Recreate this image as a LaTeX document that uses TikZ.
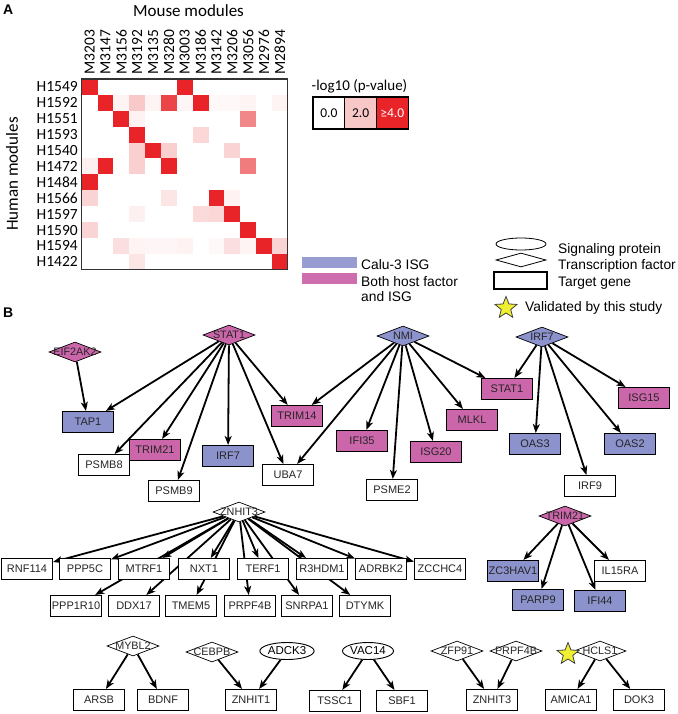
\documentclass[tikz,border=0pt]{standalone}
\usepackage{fontspec}
\setmainfont{Liberation Sans}
\newfontfamily\calfont{Carlito}
\usetikzlibrary{shapes.geometric,arrows.meta,backgrounds}
\definecolor{hmred}{RGB}{232,36,40}
\definecolor{isgblue}{RGB}{140,146,204}
\definecolor{bothpink}{RGB}{204,102,170}
\definecolor{staryellow}{RGB}{240,240,50}
\definecolor{legpink}{RGB}{248,200,200}
\begin{document}
\begin{tikzpicture}[x=1pt,y=-1pt,
  tbox/.style={rectangle,draw=black,line width=1.1pt,minimum width=51pt,minimum height=21pt,inner sep=0pt,fill=white,font=\fontsize{11}{12}\selectfont,text=black!85},
  isg/.style={tbox,fill=isgblue},
  both/.style={tbox,fill=bothpink},
  tf/.style={diamond,draw=black,line width=0.7pt,minimum width=52pt,minimum height=20pt,inner sep=0pt,fill=white},
  tfl/.style={font=\fontsize{10.8}{12}\selectfont,inner sep=0pt,text=black!85},
  sig/.style={ellipse,draw=black,line width=0.9pt,minimum width=51pt,minimum height=17pt,inner sep=0pt,fill=white,font=\fontsize{11.5}{12}\selectfont},
  edge/.style={line width=1.8pt,-{Stealth[length=9pt,width=7pt,inset=2.5pt]}},
  hmlab/.style={font=\calfont\fontsize{15.5}{16}\selectfont,inner sep=0pt},
  legtxt/.style={font=\fontsize{13.8}{15}\selectfont,inner sep=0pt},
  vstar/.style={star,star points=5,star point ratio=2.3,minimum size=23pt,inner sep=0pt,fill=staryellow,draw=black!75,line width=0.8pt},
  panel/.style={font=\bfseries\fontsize{14}{14}\selectfont,inner sep=0pt}
]
\useasboundingbox (0,0) rectangle (677,714);
% ---------------- Panel A ----------------
\node[panel,anchor=north west] (pa) at (3,5) {A};
\node[font=\calfont\fontsize{17}{18}\selectfont,inner sep=0pt] (mouse) at (188.5,10.5) {Mouse modules};
\node[font=\calfont\fontsize{17}{18}\selectfont,inner sep=0pt,rotate=90] (human) at (12,174) {Human modules};
\foreach \r/\c/\p in {0/0/100,0/6/100,
  1/1/100,1/2/5,1/3/25,1/4/5,1/5/85,1/6/4,1/7/100,1/8/3,1/9/3,1/10/5,1/12/5,
  2/2/100,2/3/6,2/10/55,
  3/3/100,3/7/18,
  4/3/22,4/4/100,4/5/22,4/9/20,
  5/0/7,5/1/100,5/3/22,5/5/100,5/10/60,
  6/0/100,
  7/0/20,7/5/12,7/8/100,7/9/6,
  8/3/7,8/7/17,8/8/18,8/9/100,
  9/0/20,9/10/100,
  10/2/15,10/3/5,10/4/4,10/5/4,10/6/6,10/8/3,10/9/15,10/10/5,10/11/100,10/12/20,
  11/3/12,11/12/100}
  \fill[hmred!\p!white] ({81.7+\c*15.85},{79+\r*15.9}) rectangle ++(15.85,15.9);
\draw[line width=1.2pt,black!80] (81.7,79) rectangle (287.8,269.8);
\foreach \lab [count=\i from 0] in {M3203,M3147,M3156,M3192,M3135,M3280,M3003,M3186,M3142,M3206,M3056,M2976,M2894}
  \node[hmlab,rotate=90,anchor=west] at ({81.7+(\i+0.5)*15.85},75) {\lab};
\foreach \lab [count=\i from 0] in {H1549,H1592,H1551,H1593,H1540,H1472,H1484,H1566,H1597,H1590,H1594,H1422}
  \node[hmlab,anchor=east] at (78,{79+(\i+0.5)*15.9}) {\lab};
% heatmap legend
\node[font=\calfont\fontsize{15}{16}\selectfont,inner sep=0pt] (lgt) at (359.5,86.5) {-log10 (p-value)};
\node[draw=black,line width=1.2pt,fill=white,minimum width=31.7pt,minimum height=32pt,inner sep=0pt,font=\calfont\fontsize{13.5}{14}\selectfont] (l0) at (328.9,113) {0.0};
\node[draw=black,line width=1.2pt,fill=legpink,minimum width=31.7pt,minimum height=32pt,inner sep=0pt,font=\calfont\fontsize{13.5}{14}\selectfont] (l2) at (360.6,113) {2.0};
\node[draw=black,line width=1.2pt,fill=hmred,minimum width=31.7pt,minimum height=32pt,inner sep=0pt,font=\calfont\fontsize{13.5}{14}\selectfont,text=white] (l4) at (392.3,113) {≥4.0};
% ---------------- Legends B ----------------
\fill[isgblue!90!white] (302,257) rectangle (357,268);
\fill[bothpink!95!white] (302,273) rectangle (357,284);
\node[legtxt,anchor=base west] (tcalu) at (361,269) {Calu-3 ISG};
\node[legtxt,anchor=base west] (tboth) at (361,286.7) {Both host factor};
\node[legtxt,anchor=base west] (tboth2) at (361,301.7) {and ISG};
\node[ellipse,draw=black,line width=0.8pt,minimum width=50pt,minimum height=12pt,inner sep=0pt] (lgell) at (521,244) {};
\node[diamond,draw=black,line width=0.8pt,minimum width=50pt,minimum height=14pt,inner sep=0pt] (lgdia) at (521,260) {};
\node[rectangle,draw=black,line width=1.1pt,minimum width=53pt,minimum height=17pt,inner sep=0pt] (lgrect) at (520.5,280.5) {};
\node[vstar] (lgstar) at (506,308) {};
\node[legtxt,anchor=base west] (tsig) at (558,253) {Signaling protein};
\node[legtxt,anchor=base west] (ttf) at (558,269.3) {Transcription factor};
\node[legtxt,anchor=base west] (ttg) at (558,286.7) {Target gene};
\node[legtxt,anchor=base west] (tval) at (525,311.7) {Validated by this study};
\node[panel,anchor=north west] (pb) at (3,308) {B};
% ---------------- Network ----------------
\node[tf,fill=bothpink,label={[tfl]center:STAT1}] (stat1tf) at (229,335) {};
\node[tf,fill=bothpink,label={[tfl]center:EIF2AK2}] (eif2ak2) at (75,352) {};
\node[tf,fill=isgblue,label={[tfl]center:NMI}] (nmi) at (403,336) {};
\node[tf,fill=isgblue,label={[tfl]center:IRF7}] (irf7tf) at (542,337) {};
\node[isg] (tap1) at (88,422) {TAP1};
\node[both] (trim21) at (155,450) {TRIM21};
\node[tbox] (psmb8) at (104,465) {PSMB8};
\node[tbox] (psmb9) at (174,491) {PSMB9};
\node[isg] (irf7) at (228,456) {IRF7};
\node[tbox] (uba7) at (288,475) {UBA7};
\node[both] (trim14) at (297,416) {TRIM14};
\node[both] (stat1) at (507,389) {STAT1};
\node[both] (isg15) at (644,398) {ISG15};
\node[both] (mlkl) at (472,420) {MLKL};
\node[both] (ifi35) at (362,441) {IFI35};
\node[both] (isg20) at (436,452) {ISG20};
\node[isg] (oas3) at (535,444) {OAS3};
\node[isg] (oas2) at (630,444) {OAS2};
\node[tbox] (psme2) at (392,490) {PSME2};
\node[tbox] (irf9) at (590,486) {IRF9};
\node[tf,fill=bothpink,label={[tfl]center:TRIM21}] (trim21tf) at (565,516) {};
\node[isg] (zc3hav1) at (513,571) {ZC3HAV1};
\node[isg] (parp9) at (538,600) {PARP9};
\node[isg] (ifi44) at (600,601) {IFI44};
\node[tbox] (il15ra) at (620,571) {IL15RA};
\node[tf,label={[tfl]center:ZNHIT3}] (znhit3tf) at (239,512) {};
\node[tbox] (rnf114) at (27,569) {RNF114};
\node[tbox] (ppp5c) at (85,569) {PPP5C};
\node[tbox] (mtrf1) at (144,569) {MTRF1};
\node[tbox] (nxt1) at (204,569) {NXT1};
\node[tbox] (terf1) at (263,569) {TERF1};
\node[tbox] (r3hdm1) at (322,569) {R3HDM1};
\node[tbox] (adrbk2) at (381,569) {ADRBK2};
\node[tbox] (zcchc4) at (440,569) {ZCCHC4};
\node[tbox] (ppp1r10) at (76,606) {PPP1R10};
\node[tbox] (ddx17) at (134,606) {DDX17};
\node[tbox] (tmem5) at (191,606) {TMEM5};
\node[tbox] (prpf4b) at (250,606) {PRPF4B};
\node[tbox] (snrpa1) at (307,606) {SNRPA1};
\node[tbox] (dtymk) at (365,606) {DTYMK};
\node[tf,label={[tfl]center:MYBL2}] (mybl2) at (133,646) {};
\node[tf,label={[tfl]center:CEBPB}] (cebpb) at (212,652) {};
\node[sig] (adck3) at (287,651) {ADCK3};
\node[sig] (vac14) at (368,651) {VAC14};
\node[tf,label={[tfl]center:ZFP91}] (zfp91) at (457,651) {};
\node[tf,label={[tfl]center:PRPF4B}] (prpf4btf) at (516,651) {};
\node[tf,label={[tfl]center:HCLS1}] (hcls1) at (600,651) {};
\node[vstar] (vstar1) at (568,654) {};
\node[tbox] (arsb) at (99,700) {ARSB};
\node[tbox] (bdnf) at (163,700) {BDNF};
\node[tbox] (znhit1) at (251,700) {ZNHIT1};
\node[tbox] (tssc1) at (335,701) {TSSC1};
\node[tbox] (sbf1) at (402,701) {SBF1};
\node[tbox] (znhit3) at (492,700) {ZNHIT3};
\node[tbox] (amica1) at (571,700) {AMICA1};
\node[tbox] (dok3) at (639,700) {DOK3};
\begin{scope}[on background layer]
\foreach \t in {tap1,psmb8,trim21,psmb9,irf7,uba7,trim14} \draw[edge] (stat1tf) -- (\t);
\draw[edge] (eif2ak2) -- (tap1);
\foreach \t in {trim14,uba7,ifi35,psme2,isg20,mlkl,stat1} \draw[edge] (nmi) -- (\t);
\foreach \t in {stat1,oas3,irf9,oas2,isg15} \draw[edge] (irf7tf) -- (\t);
\foreach \t in {zc3hav1,parp9,ifi44,il15ra} \draw[edge] (trim21tf) -- (\t);
\foreach \t in {rnf114,ppp5c,mtrf1,nxt1,terf1,r3hdm1,adrbk2,zcchc4,ppp1r10,ddx17,tmem5,prpf4b,snrpa1,dtymk} \draw[edge] (znhit3tf) -- (\t);
\draw[edge] (mybl2) -- (arsb);
\draw[edge] (mybl2) -- (bdnf);
\draw[edge] (cebpb) -- (znhit1);
\draw[edge] (adck3) -- (znhit1);
\draw[edge] (vac14) -- (tssc1);
\draw[edge] (vac14) -- (sbf1);
\draw[edge] (zfp91) -- (znhit3);
\draw[edge] (prpf4btf) -- (znhit3);
\draw[edge] (hcls1) -- (amica1);
\draw[edge] (hcls1) -- (dok3);
\end{scope}
\end{tikzpicture}
\end{document}
